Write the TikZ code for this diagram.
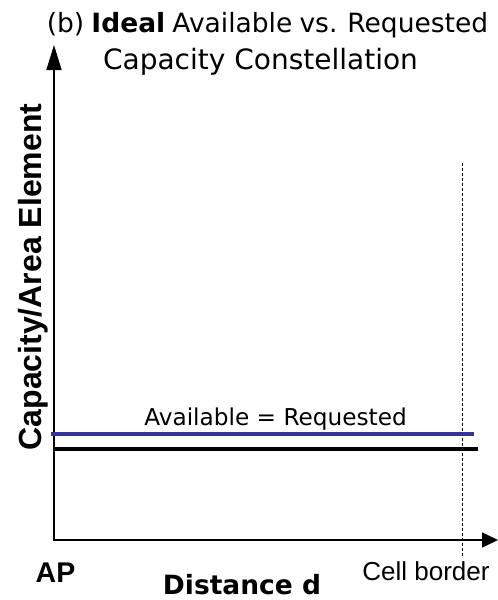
\documentclass[tikz,border=0pt]{standalone}
\usepackage{fontspec}
\setmainfont{DejaVu Sans}
\newfontfamily\tightsans[WordSpace=0.85]{DejaVu Sans}
\newfontfamily\arialish{Liberation Sans}
\usetikzlibrary{arrows.meta}
\definecolor{availblue}{RGB}{51,51,153}
\begin{document}
\begin{tikzpicture}[x=1pt,y=-1pt,
  axis/.style={line width=1.6pt},
  level/.style={line width=3.2pt},
  txt/.style={inner sep=0pt,anchor=base}]
\useasboundingbox (0,0) rectangle (498,600);

% axes
\coordinate (orig) at (54,541);
\coordinate (ytop) at (54,45);
\coordinate (xend) at (498,540);
\coordinate (xstart) at (53,540);
\draw[axis,-{Triangle[length=25pt,width=15pt]}] (orig) -- (ytop);
\draw[axis,-{Triangle[length=16pt,width=15pt]}] (xstart) -- (xend);

% cell border marker
\coordinate (cbtop) at (462,163);
\coordinate (cbbot) at (462,557);
\draw[line width=1pt,dash pattern=on 3pt off 2pt] (cbtop) -- (cbbot);

% capacity levels
\coordinate (avL) at (51,434);
\coordinate (avR) at (474,434);
\coordinate (rqL) at (55,449);
\coordinate (rqR) at (478,449);
\draw[level,availblue] (avL) -- (avR);
\draw[level,black] (rqL) -- (rqR);

% labels
\node[txt,font=\tightsans\fontsize{26.5}{31}\selectfont] (t1) at (267.5,32) {(b) \textbf{Ideal} Available vs. Requested};
\node[txt,font=\fontsize{28}{32}\selectfont] (t2) at (260.5,69) {Capacity Constellation};
\node[txt,font=\fontsize{23.2}{27}\selectfont] (eq) at (275.5,425) {Available = Requested};
\node[txt,font=\arialish\bfseries\fontsize{28.5}{33}\selectfont] (ap) at (55.5,582) {AP};
\node[txt,font=\bfseries\fontsize{26.5}{30}\selectfont] (dist) at (242,594) {Distance d};
\node[txt,font=\arialish\fontsize{26}{30}\selectfont] (cell) at (426,580) {Cell border};
\node[txt,rotate=90,font=\arialish\bfseries\fontsize{32}{36}\selectfont] (ylab) at (41.5,277) {Capacity/Area Element};
\end{tikzpicture}
\end{document}
